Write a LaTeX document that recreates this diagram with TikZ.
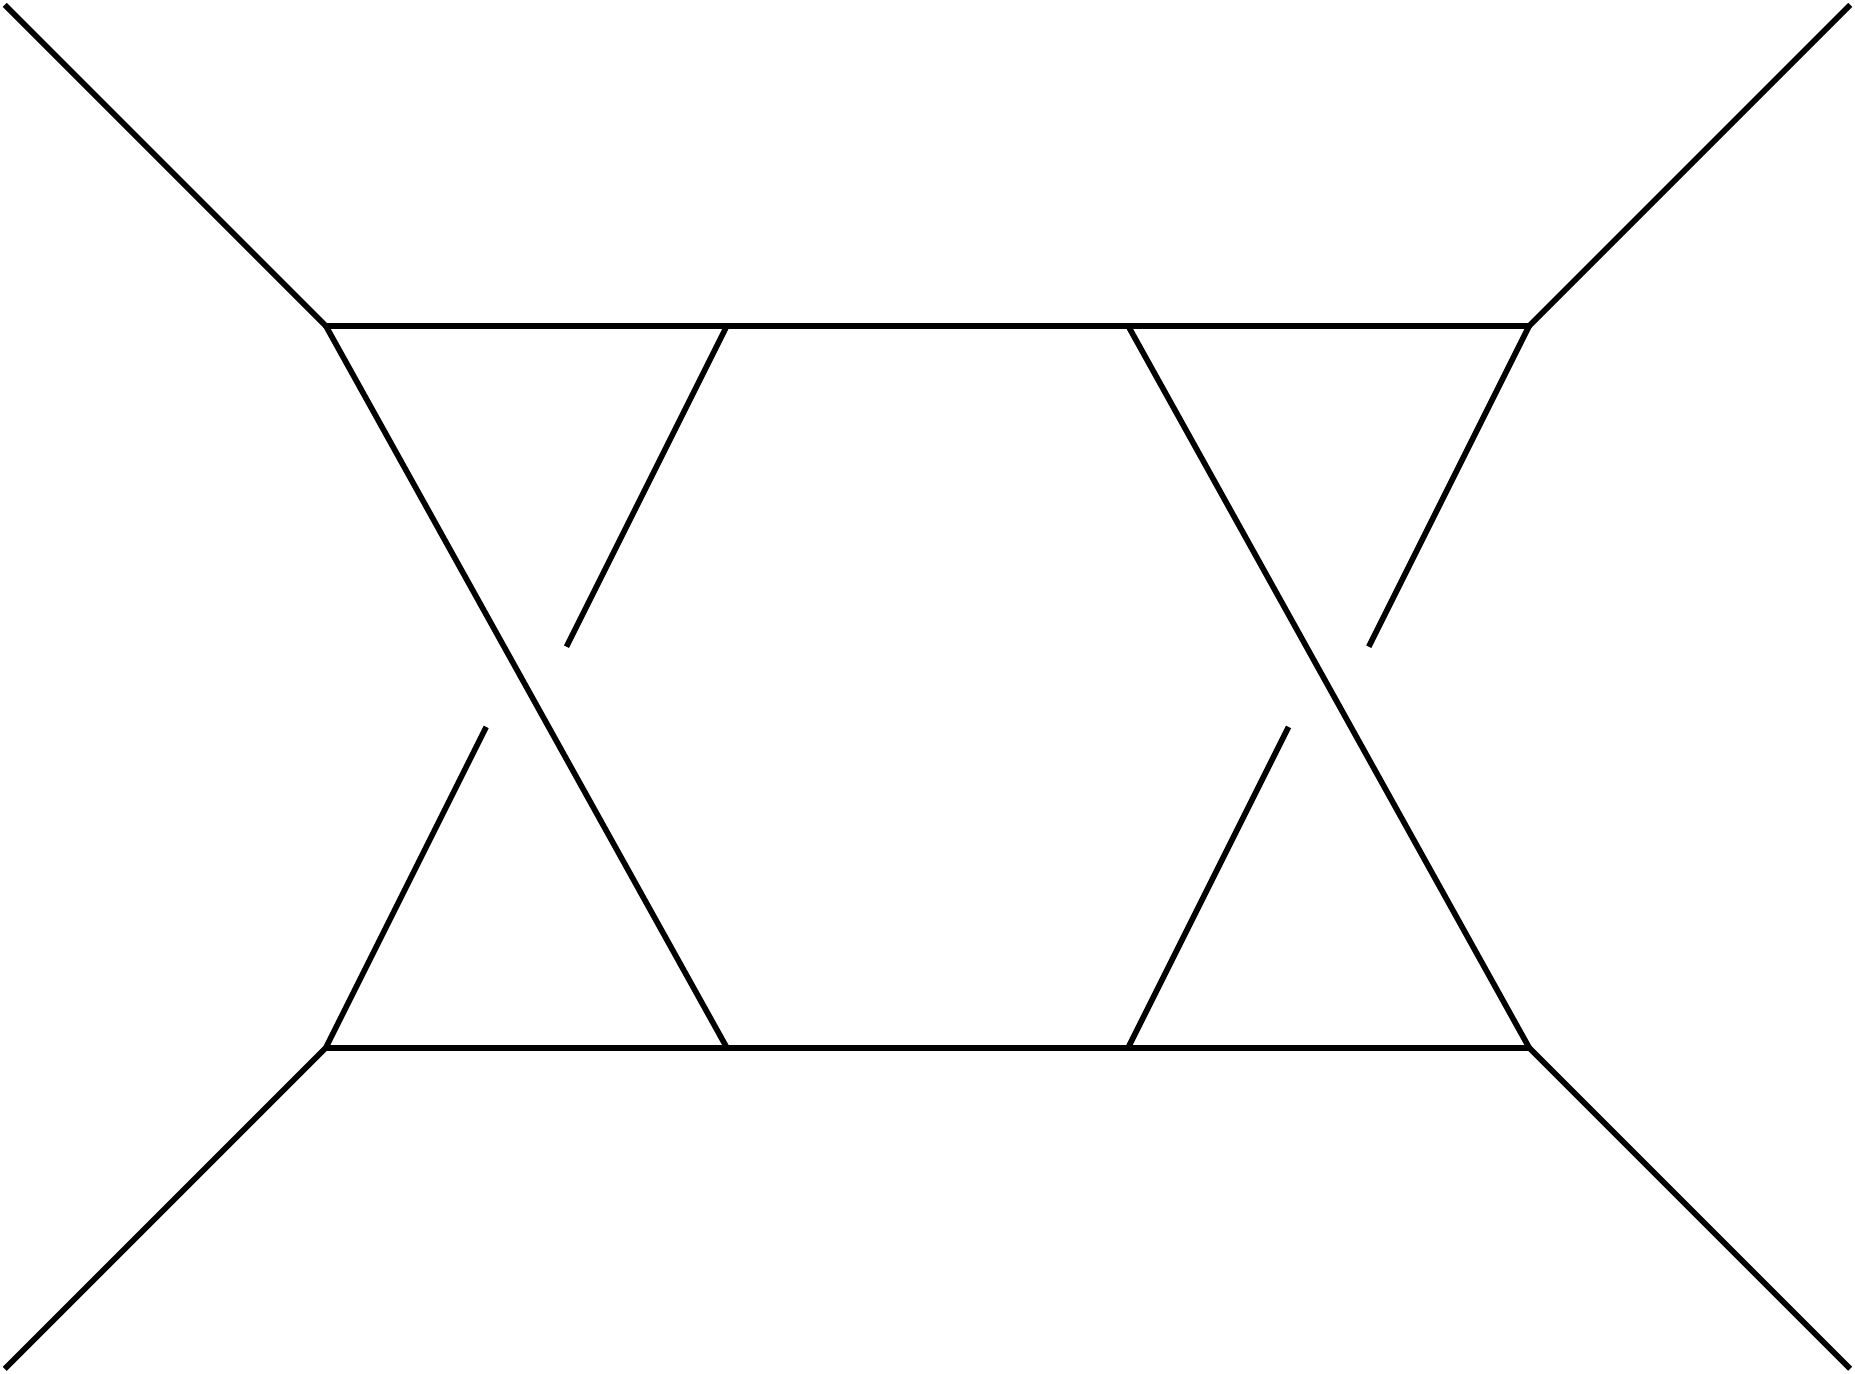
\documentclass[tikz,border=0pt]{standalone}
\usepackage{tikz}
\usetikzlibrary{positioning}

\begin{document}
\begin{tikzpicture}[
    x=2cm, y=2cm,
    prop/.style={line width=0.8pt, line cap=butt}
]
\useasboundingbox (-0.812,-0.812) rectangle (3.812,2.612);
% vertices of the box
\coordinate (tl) at (0,1.8);
\coordinate (ta) at (1,1.8);
\coordinate (tb) at (2,1.8);
\coordinate (tr) at (3,1.8);
\coordinate (bl) at (0,0);
\coordinate (ba) at (1,0);
\coordinate (bb) at (2,0);
\coordinate (br) at (3,0);
% external legs
\coordinate (inA) at (-0.8,2.6);
\coordinate (inB) at (-0.8,-0.8);
\coordinate (outA) at (3.8,2.6);
\coordinate (outB) at (3.8,-0.8);
% ends at the crossings
\coordinate (gapLu) at (0.6,1.0);
\coordinate (gapLd) at (0.4,0.8);
\coordinate (gapRu) at (2.6,1.0);
\coordinate (gapRd) at (2.4,0.8);

\draw[prop] (inA) -- (tl);
\draw[prop] (inB) -- (bl);
\draw[prop] (outA) -- (tr);
\draw[prop] (outB) -- (br);
\draw[prop] (tl) -- (tr);
\draw[prop] (bl) -- (br);
\draw[prop] (tl) -- (ba);
\draw[prop] (tb) -- (br);
\draw[prop] (ta) -- (gapLu);
\draw[prop] (gapLd) -- (bl);
\draw[prop] (tr) -- (gapRu);
\draw[prop] (gapRd) -- (bb);
\end{tikzpicture}
\end{document}
